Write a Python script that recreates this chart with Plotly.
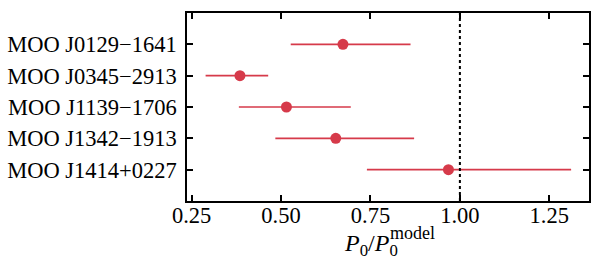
import plotly.graph_objects as go

clusters = ["MOO J0129\u22121641", "MOO J0345\u22122913", "MOO J1139\u22121706",
            "MOO J1342\u22121913", "MOO J1414+0227"]
ratio = [0.673, 0.385, 0.515, 0.653, 0.968]
err_lo = [0.527, 0.289, 0.382, 0.484, 0.740]
err_hi = [0.862, 0.464, 0.695, 0.872, 1.311]
xticks = [0.25, 0.50, 0.75, 1.00, 1.25]
xtick_labels = ["0.25", "0.50", "0.75", "1.00", "1.25"]

ypos = list(range(len(clusters)))
minus = [r - lo for r, lo in zip(ratio, err_lo)]
plus = [hi - r for r, hi in zip(ratio, err_hi)]

color = "#d63a4a"
font = "Liberation Serif, Times New Roman, serif"

fig = go.Figure()
fig.add_trace(go.Scatter(
    x=ratio, y=ypos, mode="markers",
    marker=dict(color=color, size=11, line=dict(width=0)),
    error_x=dict(type="data", symmetric=False, array=plus, arrayminus=minus,
                 color=color, thickness=1.6, width=0),
    showlegend=False,
))

fig.add_shape(type="line", x0=1.0, x1=1.0, y0=0, y1=1, yref="paper",
              line=dict(color="black", width=2, dash="dot"))

L, R, T, B = 187, 9, 13, 61
W, H = 598, 262
pw = W - L - R


def px_x(p):
    return (p - L) / pw


# x-axis title built from pieces so that sub/superscript stack like mathtext
fig.add_annotation(text="<i>P</i><sub>0</sub>/<i>P</i><sub>0</sub>",
                   xref="paper", yref="paper", x=px_x(342), y=0,
                   xanchor="left", yanchor="top", yshift=-27, showarrow=False,
                   font=dict(family=font, size=24, color="black"))
fig.add_annotation(text="model",
                   xref="paper", yref="paper", x=px_x(388), y=0,
                   xanchor="left", yanchor="top", yshift=-20, showarrow=False,
                   font=dict(family=font, size=18, color="black"))

fig.update_layout(
    width=W, height=H,
    margin=dict(l=L, r=R, t=T, b=B),
    paper_bgcolor="white", plot_bgcolor="white",
    font=dict(family=font, size=22.5, color="black"),
)
fig.update_xaxes(
    range=[0.237, 1.361], tickvals=xticks, ticktext=xtick_labels,
    ticks="inside", ticklen=6, tickwidth=1.5, tickcolor="black",
    showline=True, linecolor="black", linewidth=1.5, mirror="ticks",
    showgrid=False, zeroline=False, automargin=False,
    ticklabelstandoff=-7,
)
fig.update_yaxes(
    range=[5, -1], tickvals=ypos, ticktext=clusters,
    ticks="inside", ticklen=6, tickwidth=1.5, tickcolor="black",
    showline=True, linecolor="black", linewidth=1.5, mirror="ticks",
    showgrid=False, zeroline=False, automargin=False,
    ticklabelstandoff=4,
)

fig.write_html("out.html",
               config={"displayModeBar": False},
               post_script="document.body.style.margin='0';"
                           "document.body.style.overflow='hidden';")
